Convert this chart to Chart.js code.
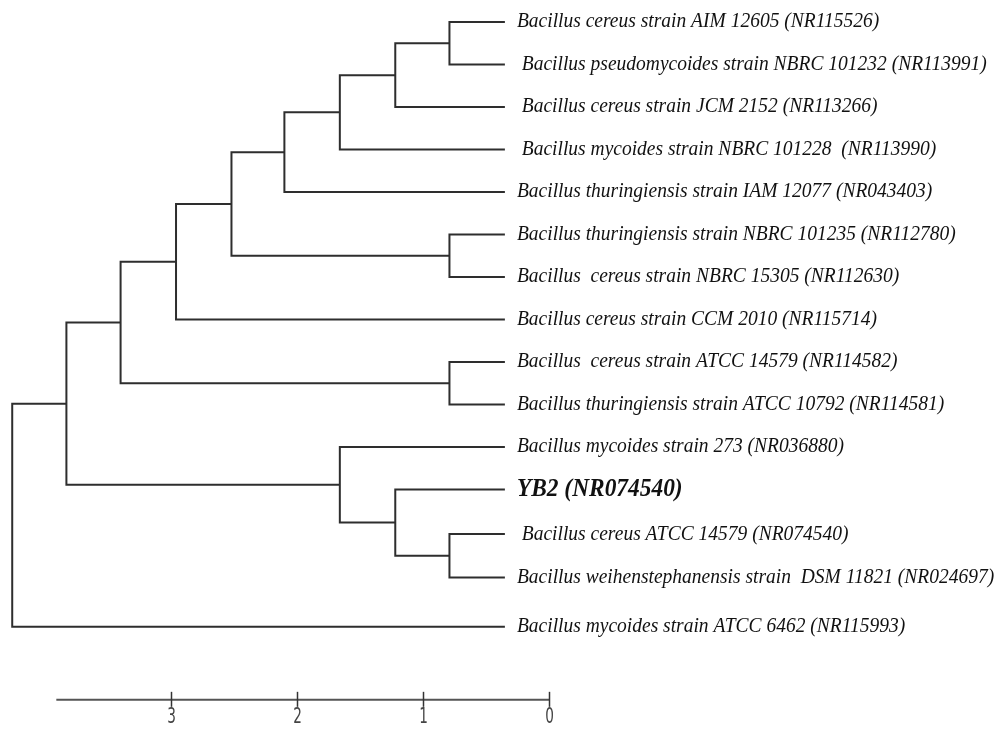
<!DOCTYPE html>
<html>
<head>
<meta charset="utf-8">
<script src="https://cdn.jsdelivr.net/npm/chart.js@4.4.1/dist/chart.umd.min.js"></script>
<style>
  html, body { margin: 0; padding: 0; background: #fff; }
  #wrap { width: 1005px; height: 730px; position: relative; }
</style>
</head>
<body>
<div id="wrap"><canvas id="tree"></canvas></div>
<script>
// leaves, top to bottom
const leafNames = [
  'Bacillus cereus strain AIM 12605 (NR115526)',
  ' Bacillus pseudomycoides strain NBRC 101232 (NR113991)',
  ' Bacillus cereus strain JCM 2152 (NR113266)',
  ' Bacillus mycoides strain NBRC 101228  (NR113990)',
  'Bacillus thuringiensis strain IAM 12077 (NR043403)',
  'Bacillus thuringiensis strain NBRC 101235 (NR112780)',
  'Bacillus  cereus strain NBRC 15305 (NR112630)',
  'Bacillus cereus strain CCM 2010 (NR115714)',
  'Bacillus  cereus strain ATCC 14579 (NR114582)',
  'Bacillus thuringiensis strain ATCC 10792 (NR114581)',
  'Bacillus mycoides strain 273 (NR036880)',
  'YB2 (NR074540)',
  ' Bacillus cereus ATCC 14579 (NR074540)',
  'Bacillus weihenstephanensis strain  DSM 11821 (NR024697)',
  'Bacillus mycoides strain ATCC 6462 (NR115993)'
];
const leafRows = [0, 1, 2, 3, 4, 5, 6, 7, 8, 9, 10, 11, 12.05, 13.07, 14.23];
const boldLeaf = 11;
const tipDistance = 0.35;

// internal nodes: children (leaf index or node id) and distance on the scale
const nodeIds = ['A', 'B', 'C', 'D', 'F', 'E', 'G', 'I', 'H', 'M', 'L', 'K', 'J', 'R'];
const nodeKids = [
  [0, 1], ['A', 2], ['B', 3], ['C', 4], [5, 6], ['D', 'F'], ['E', 7],
  [8, 9], ['G', 'I'], [12, 13], [11, 'M'], [10, 'L'], ['H', 'K'], ['J', 14]
];
const nodeHeights = [0.79, 1.22, 1.66, 2.10, 0.79, 2.52, 2.96, 0.79, 3.40, 0.79, 1.22, 1.66, 3.83, 4.26];

// scale bar
const scaleTicks = [3, 2, 1, 0];
const scaleStart = 3.91;
const scaleRow = 15.95;

const pos = {};
leafRows.forEach((r, i) => { pos[i] = { x: tipDistance, y: r }; });
const datasets = [];
nodeIds.forEach((id, i) => {
  const a = pos[nodeKids[i][0]];
  const b = pos[nodeKids[i][1]];
  const h = nodeHeights[i];
  pos[id] = { x: h, y: (a.y + b.y) / 2 };
  datasets.push({
    data: [{ x: a.x, y: a.y }, { x: h, y: a.y }, { x: h, y: b.y }, { x: b.x, y: b.y }],
    showLine: true,
    borderColor: '#2e2e2e',
    borderWidth: 2,
    pointRadius: 0,
    tension: 0,
    clip: false
  });
});

const treeDecor = {
  id: 'treeDecor',
  afterDatasetsDraw(chart) {
    const ctx = chart.ctx;
    const xs = chart.scales.x;
    const ys = chart.scales.y;
    ctx.save();
    ctx.fillStyle = '#111';
    ctx.textBaseline = 'middle';
    ctx.textAlign = 'left';
    leafNames.forEach((name, i) => {
      const px = xs.getPixelForValue(tipDistance) + 12;
      const py = ys.getPixelForValue(leafRows[i]);
      ctx.font = i === boldLeaf
        ? 'italic bold 24px "Liberation Serif", "Times New Roman", serif'
        : 'italic 20px "Liberation Serif", "Times New Roman", serif';
      ctx.save();
      ctx.translate(px, py);
      ctx.scale(0.975, 1.04);
      ctx.fillText(name, 0, 0);
      ctx.restore();
    });

    const by = ys.getPixelForValue(scaleRow);
    ctx.strokeStyle = '#555';
    ctx.lineWidth = 2;
    ctx.beginPath();
    ctx.moveTo(xs.getPixelForValue(scaleStart), by);
    ctx.lineTo(xs.getPixelForValue(0) + 1, by);
    ctx.stroke();
    ctx.strokeStyle = '#333';
    ctx.lineWidth = 1.5;
    ctx.fillStyle = '#444';
    ctx.textAlign = 'center';
    ctx.textBaseline = 'middle';
    ctx.font = '21px "Liberation Sans Narrow", "DejaVu Sans Condensed", sans-serif';
    scaleTicks.forEach(t => {
      const tx = Math.round(xs.getPixelForValue(t)) + 0.5;
      ctx.beginPath();
      ctx.moveTo(tx, by - 8);
      ctx.lineTo(tx, by + 7);
      ctx.stroke();
      ctx.save();
      ctx.translate(tx, by + 18);
      ctx.scale(0.72, 1);
      ctx.fillText(String(t), 0, 0);
      ctx.restore();
    });
    ctx.restore();
  }
};

new Chart(document.getElementById('tree'), {
  type: 'scatter',
  data: { datasets: datasets },
  options: {
    responsive: true,
    maintainAspectRatio: false,
    animation: false,
    layout: { padding: 0 },
    plugins: { legend: { display: false }, tooltip: { enabled: false } },
    events: [],
    scales: {
      x: { type: 'linear', reverse: true, min: -3.619, max: 4.357, display: false },
      y: { type: 'linear', reverse: true, min: -0.518, max: 16.66, display: false }
    }
  },
  plugins: [treeDecor]
});
</script>
</body>
</html>
